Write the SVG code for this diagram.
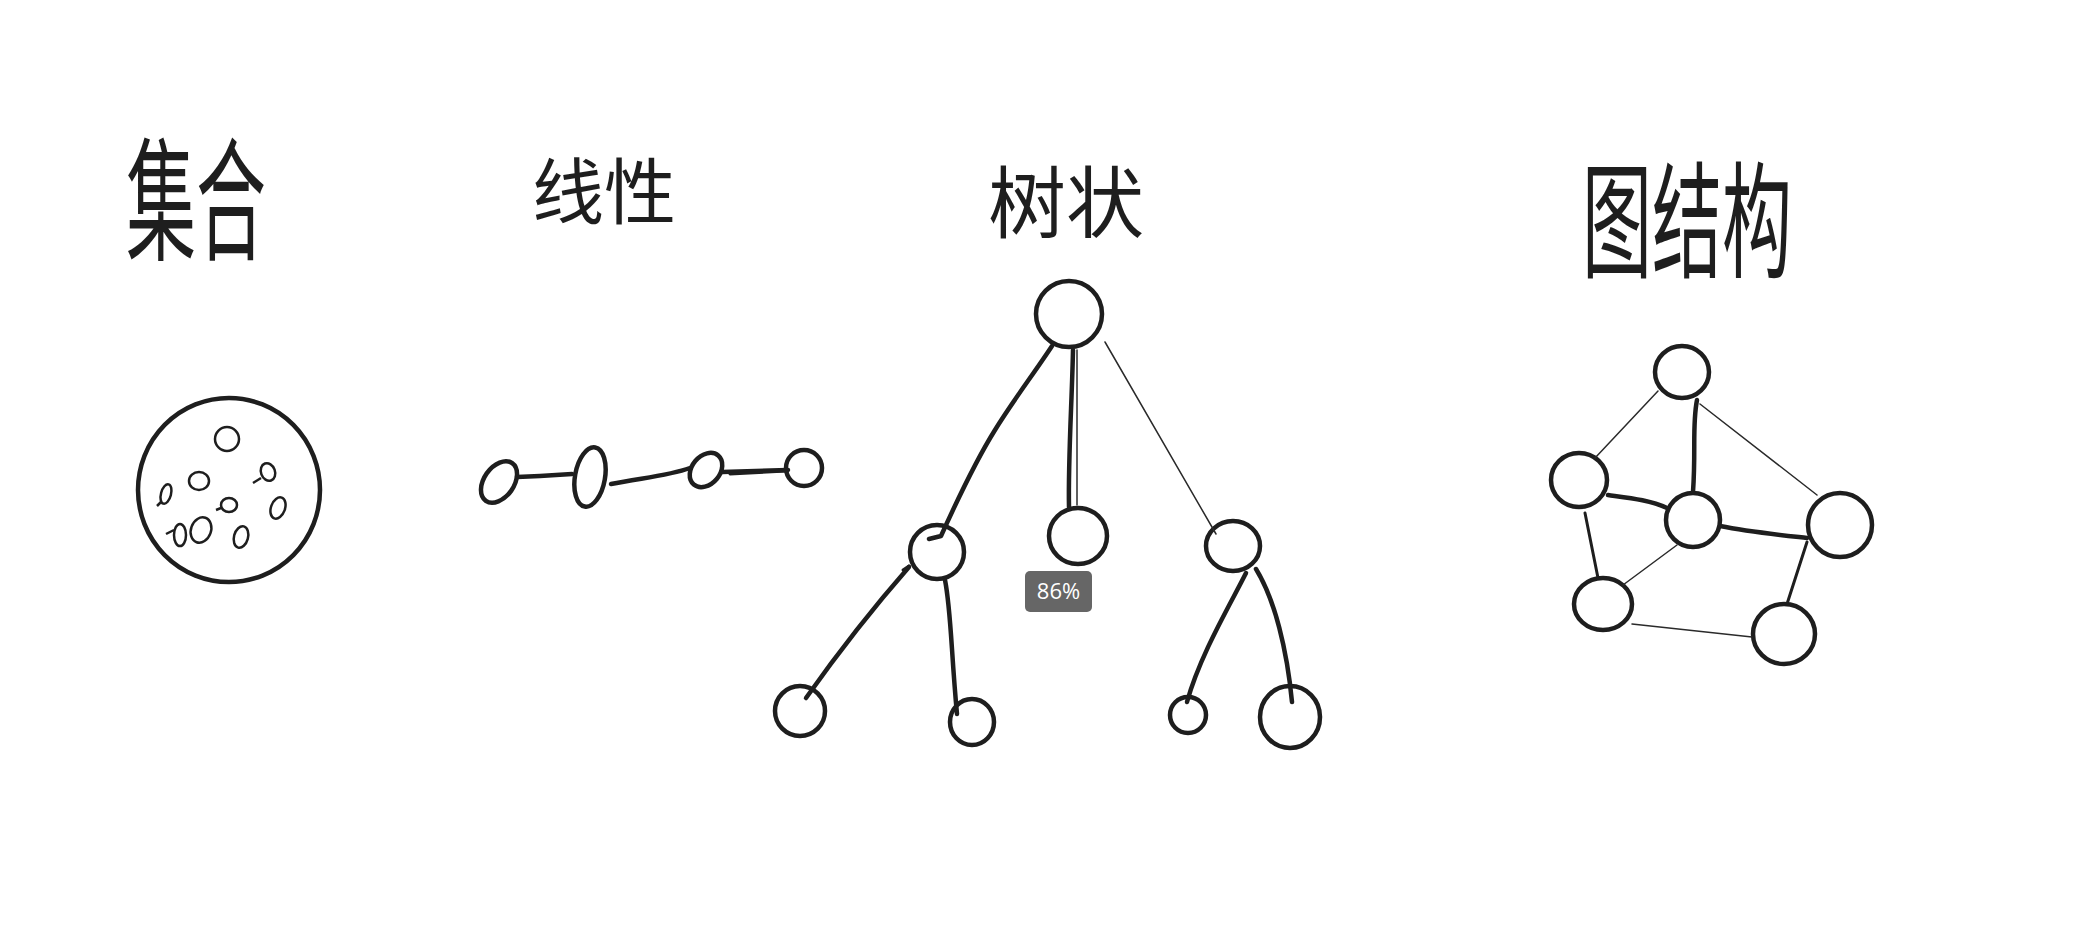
<svg xmlns="http://www.w3.org/2000/svg" width="2082" height="931" viewBox="0 0 2082 931">
<style>
.n{fill:none;stroke:#1e1e1e;stroke-width:4.5}
.s{fill:none;stroke:#1e1e1e;stroke-width:2.5}
.e{fill:none;stroke:#1e1e1e;stroke-width:4.5;stroke-linecap:round;stroke-linejoin:round}
.t{fill:none;stroke:#2a2a2a;stroke-width:1.5;stroke-linecap:round}
.m{fill:none;stroke:#1e1e1e;stroke-width:3;stroke-linecap:round}
.h{font-family:"Noto Sans CJK SC","Noto Sans",sans-serif;fill:#1e1e1e}
</style>
<rect width="2082" height="931" fill="#ffffff"/>

<g id="titles">
<text class="h" font-size="70" transform="translate(126,250) scale(1,1.9)">集合</text>
<text class="h" font-size="72" x="532" y="218">线性</text>
<text class="h" font-size="78" x="988" y="232">树状</text>
<text class="h" font-size="70" transform="translate(1582,268) scale(1,1.8)">图结构</text>
</g>

<g id="set">
<ellipse class="n" cx="229" cy="490" rx="91" ry="92"/>
<circle class="s" cx="227" cy="439" r="12"/>
<ellipse class="s" cx="199" cy="481" rx="10" ry="9"/>
<ellipse class="s" cx="166" cy="494" rx="5" ry="10" transform="rotate(15 166 494)"/>
<path class="s" d="M161,502 l-4,4"/>
<ellipse class="s" cx="268" cy="472" rx="7" ry="9" transform="rotate(-20 268 472)"/>
<path class="s" d="M261,478 l-8,5"/>
<ellipse class="s" cx="278" cy="508" rx="7" ry="11" transform="rotate(20 278 508)"/>
<ellipse class="s" cx="229" cy="505" rx="8" ry="7"/>
<path class="s" d="M221,508 l-5,2"/>
<ellipse class="s" cx="201" cy="530" rx="10" ry="13" transform="rotate(20 201 530)"/>
<ellipse class="s" cx="180" cy="535" rx="6" ry="11"/>
<path class="s" d="M174,530 l-8,4"/>
<ellipse class="s" cx="241" cy="537" rx="7" ry="11" transform="rotate(15 241 537)"/>
</g>

<g id="linear">
<ellipse id="l1" class="n" cx="499" cy="482" rx="15" ry="23" transform="rotate(35 499 482)"/>
<ellipse id="l2" class="n" cx="590" cy="477" rx="15" ry="30" transform="rotate(10 590 477)"/>
<ellipse id="l3" class="n" cx="706" cy="470" rx="14" ry="19" transform="rotate(40 706 470)"/>
<circle id="l4" class="n" cx="804" cy="468" r="18"/>
</g>

<g id="tree">
<ellipse id="t-root" class="n" cx="1069" cy="314" rx="33" ry="33"/>
<ellipse id="t-l" class="n" cx="937" cy="552" rx="27" ry="27"/>
<ellipse id="t-m" class="n" cx="1078" cy="536" rx="29" ry="28"/>
<ellipse id="t-r" class="n" cx="1233" cy="546" rx="27" ry="25"/>
<ellipse id="t-ll" class="n" cx="800" cy="711" rx="25" ry="25"/>
<ellipse id="t-lr" class="n" cx="972" cy="722" rx="22" ry="23"/>
<ellipse id="t-rl" class="n" cx="1188" cy="715" rx="18" ry="18"/>
<ellipse id="t-rr" class="n" cx="1290" cy="717" rx="30" ry="31"/>
</g>

<g id="graph">
<ellipse id="g-top" class="n" cx="1682" cy="372" rx="27" ry="26"/>
<ellipse id="g-left" class="n" cx="1579" cy="480" rx="28" ry="27"/>
<ellipse id="g-center" class="n" cx="1693" cy="520" rx="27" ry="27"/>
<ellipse id="g-right" class="n" cx="1840" cy="525" rx="32" ry="32"/>
<ellipse id="g-bl" class="n" cx="1603" cy="604" rx="29" ry="26"/>
<ellipse id="g-br" class="n" cx="1784" cy="634" rx="31" ry="30"/>
</g>

<g id="connectors">
<path class="e" d="M517,477 L540,476 L572,474"/>
<path class="e" d="M611,484 C640,478 668,476 690,468"/>
<path class="e" d="M722,472 L788,470"/>
<path class="m" d="M730,474 L786,471"/>

<path class="e" d="M1052,346 C1035,372 1012,402 995,430 C975,462 955,505 941,536 l-12,3"/>
<path class="e" d="M1073,350 C1072,400 1068,460 1069,507"/>
<path class="t" d="M1077,350 L1077,505"/>
<path class="t" d="M1105,342 L1216,534"/>
<path class="e" d="M909,567 C880,600 840,650 806,698"/>
<path class="m" d="M903,570 l6,-4"/>
<path class="e" d="M945,580 C951,610 951,650 957,714"/>
<path class="e" d="M1246,573 C1230,605 1200,655 1187,702"/>
<path class="e" d="M1256,569 C1275,600 1287,650 1292,702"/>

<path class="t" d="M1658,391 L1595,458"/>
<path class="e" d="M1697,400 C1692,425 1696,450 1693,492"/>
<path class="t" d="M1700,404 L1817,495"/>
<path class="e" d="M1608,495 C1630,498 1650,500 1667,508"/>
<path class="e" d="M1720,526 C1750,532 1780,535 1807,538"/>
<path class="m" d="M1585,513 L1598,578"/>
<path class="t" d="M1677,545 L1623,585"/>
<path class="m" d="M1807,542 L1787,604"/>
<path class="t" d="M1632,624 L1752,637"/>
</g>

<g id="badge">
<rect x="1025" y="571" width="67" height="41" rx="5" fill="#666666"/>
<text x="1058.5" y="599" font-family="'Open Sans','Noto Sans',sans-serif" font-size="22" fill="#ffffff" text-anchor="middle">86%</text>
</g>
</svg>
